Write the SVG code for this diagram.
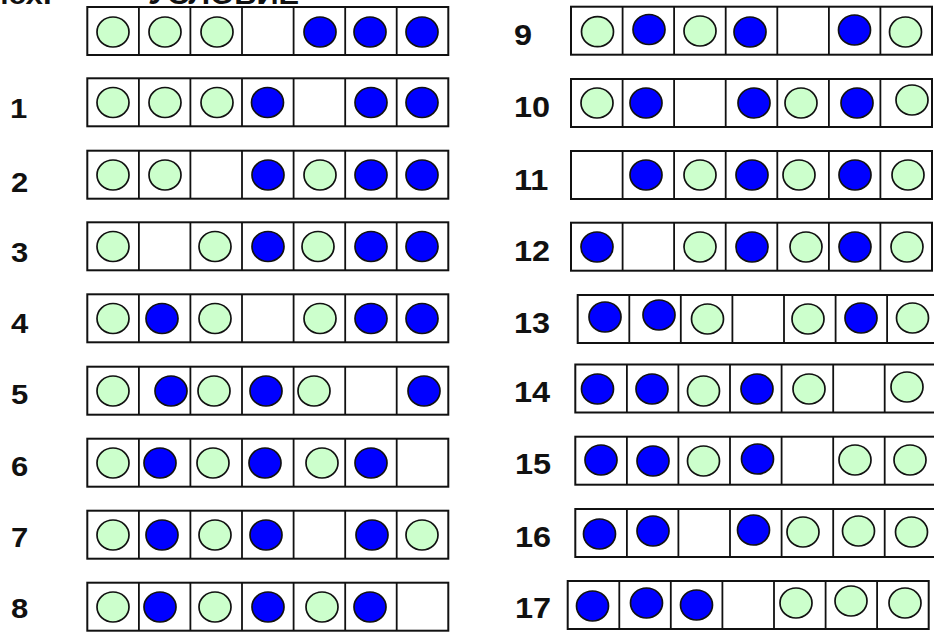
<svg xmlns="http://www.w3.org/2000/svg" xmlns:xlink="http://www.w3.org/1999/xlink" width="934" height="633" viewBox="0 0 934 633">
<style>
.frame{fill:#fff;stroke:#111;stroke-width:2}
.div{stroke:#111;stroke-width:1.8}
.g{fill:#ccffcc;stroke:#111;stroke-width:1.7}
.b{fill:#0000ff;stroke:#111;stroke-width:1.7}
.lbl{font-family:"Liberation Sans",Arial,sans-serif;font-weight:bold;font-size:27px;fill:#111}
.lblr{font-family:"Liberation Sans",Arial,sans-serif;font-weight:bold;font-size:29px;fill:#111}
.ttl{font-family:"Liberation Sans",Arial,sans-serif;font-weight:bold;font-size:28px;fill:#111}
</style>
<defs>
<g id="grid">
<rect class="frame" x="0" y="0" width="361" height="48"/>
<path class="div" d="M51.6 0V48M103.1 0V48M154.7 0V48M206.3 0V48M257.9 0V48M309.4 0V48"/>
</g>
<ellipse id="G" class="g" rx="16" ry="15"/>
<ellipse id="B" class="b" rx="16" ry="15"/>
</defs>

<g id="title">
<text class="ttl" transform="translate(-14,4) scale(1.12,1)">Исх.</text>
<text class="ttl" transform="translate(148,4) scale(1.1,1)">УСЛОВИЕ</text>
</g>

<g id="row-cond">
<use xlink:href="#grid" x="87.3" y="7"/>
<use xlink:href="#G" x="113" y="32"/><use xlink:href="#G" x="165" y="32"/><use xlink:href="#G" x="217" y="32"/>
<use xlink:href="#B" x="320" y="32"/><use xlink:href="#B" x="370" y="32"/><use xlink:href="#B" x="422" y="32"/>
</g>

<g id="row-1">
<text class="lbl" transform="translate(10,118.3) scale(1.15,1)">1</text>
<use xlink:href="#grid" x="87.3" y="78.3"/>
<use xlink:href="#G" x="113" y="102.5"/><use xlink:href="#G" x="165" y="102.5"/><use xlink:href="#G" x="217" y="102.5"/>
<use xlink:href="#B" x="267.5" y="102.5"/><use xlink:href="#B" x="371" y="102.5"/><use xlink:href="#B" x="422" y="102.5"/>
</g>

<g id="row-2">
<text class="lbl" transform="translate(11,191.7) scale(1.15,1)">2</text>
<use xlink:href="#grid" x="87.3" y="150.7"/>
<use xlink:href="#G" x="113" y="175"/><use xlink:href="#G" x="165" y="175"/>
<use xlink:href="#B" x="268" y="175"/><use xlink:href="#G" x="320" y="175"/><use xlink:href="#B" x="371" y="175"/><use xlink:href="#B" x="422" y="175"/>
</g>

<g id="row-3">
<text class="lbl" transform="translate(11,261.7) scale(1.15,1)">3</text>
<use xlink:href="#grid" x="87.3" y="222.3"/>
<use xlink:href="#G" x="113" y="246.5"/>
<use xlink:href="#G" x="215" y="246.5"/><use xlink:href="#B" x="268" y="246.5"/><use xlink:href="#G" x="318" y="246.5"/><use xlink:href="#B" x="371" y="246.5"/><use xlink:href="#B" x="422" y="246.5"/>
</g>

<g id="row-4">
<text class="lbl" transform="translate(11,332.7) scale(1.15,1)">4</text>
<use xlink:href="#grid" x="87.3" y="294.3"/>
<use xlink:href="#G" x="113" y="318.5"/><use xlink:href="#B" x="162" y="318.5"/><use xlink:href="#G" x="215" y="318.5"/>
<use xlink:href="#G" x="320" y="318.5"/><use xlink:href="#B" x="371" y="318.5"/><use xlink:href="#B" x="422" y="318.5"/>
</g>

<g id="row-5">
<text class="lbl" transform="translate(11,404) scale(1.15,1)">5</text>
<use xlink:href="#grid" x="87.3" y="366.7"/>
<use xlink:href="#G" x="113" y="391"/><use xlink:href="#B" x="171" y="391"/><use xlink:href="#G" x="214" y="391"/><use xlink:href="#B" x="266" y="391"/><use xlink:href="#G" x="314" y="391"/>
<use xlink:href="#B" x="424" y="391"/>
</g>

<g id="row-6">
<text class="lbl" transform="translate(11,475.7) scale(1.15,1)">6</text>
<use xlink:href="#grid" x="87.3" y="438.7"/>
<use xlink:href="#G" x="113" y="463"/><use xlink:href="#B" x="160" y="463"/><use xlink:href="#G" x="213" y="463"/><use xlink:href="#B" x="265" y="463"/><use xlink:href="#G" x="322" y="463"/><use xlink:href="#B" x="371" y="463"/>
</g>

<g id="row-7">
<text class="lbl" transform="translate(11,546.7) scale(1.15,1)">7</text>
<use xlink:href="#grid" x="87.3" y="510.7"/>
<use xlink:href="#G" x="113" y="535"/><use xlink:href="#B" x="162" y="535"/><use xlink:href="#G" x="215" y="535"/><use xlink:href="#B" x="266" y="535"/>
<use xlink:href="#B" x="372" y="535"/><use xlink:href="#G" x="422" y="535"/>
</g>

<g id="row-8">
<text class="lbl" transform="translate(11,618.3) scale(1.15,1)">8</text>
<use xlink:href="#grid" x="87.3" y="582.7"/>
<use xlink:href="#G" x="113" y="607"/><use xlink:href="#B" x="160" y="607"/><use xlink:href="#G" x="215" y="607"/><use xlink:href="#B" x="268" y="607"/><use xlink:href="#G" x="322" y="607"/><use xlink:href="#B" x="370" y="607"/>
</g>

<g id="row-9">
<text class="lblr" transform="translate(514,45) scale(1.12,1)">9</text>
<use xlink:href="#grid" x="571" y="6.7"/>
<use xlink:href="#G" x="597.5" y="31.7"/><use xlink:href="#B" x="649" y="29.5"/><use xlink:href="#G" x="700" y="31"/><use xlink:href="#B" x="750" y="32"/>
<use xlink:href="#B" x="854.5" y="30"/><use xlink:href="#G" x="905.5" y="32"/>
</g>

<g id="row-10">
<text class="lblr" transform="translate(514,117) scale(1.12,1)">10</text>
<use xlink:href="#grid" x="571" y="79"/>
<use xlink:href="#G" x="597" y="103"/><use xlink:href="#B" x="646" y="103"/>
<use xlink:href="#B" x="754" y="103"/><use xlink:href="#G" x="801" y="103"/><use xlink:href="#B" x="857" y="103"/><use xlink:href="#G" x="912" y="100"/>
</g>

<g id="row-11">
<text class="lblr" transform="translate(514,189.5) scale(1.12,1)">11</text>
<use xlink:href="#grid" x="571" y="151"/>
<use xlink:href="#B" x="646" y="175"/><use xlink:href="#G" x="700" y="175"/><use xlink:href="#B" x="752" y="175"/><use xlink:href="#G" x="799" y="175"/><use xlink:href="#B" x="855" y="175"/><use xlink:href="#G" x="908" y="175"/>
</g>

<g id="row-12">
<text class="lblr" transform="translate(514,260.7) scale(1.12,1)">12</text>
<use xlink:href="#grid" x="571" y="222.7"/>
<use xlink:href="#B" x="597" y="247"/>
<use xlink:href="#G" x="700" y="247"/><use xlink:href="#B" x="752" y="247"/><use xlink:href="#G" x="806" y="247"/><use xlink:href="#B" x="855" y="247"/><use xlink:href="#G" x="907" y="247"/>
</g>

<g id="row-13">
<text class="lblr" transform="translate(514,333.3) scale(1.12,1)">13</text>
<use xlink:href="#grid" x="577.7" y="295"/>
<use xlink:href="#B" x="605" y="317"/><use xlink:href="#B" x="659" y="315"/><use xlink:href="#G" x="707.5" y="319"/>
<use xlink:href="#G" x="808" y="319"/><use xlink:href="#B" x="861" y="318"/><use xlink:href="#G" x="912.5" y="318"/>
</g>

<g id="row-14">
<text class="lblr" transform="translate(514,401.7) scale(1.12,1)">14</text>
<use xlink:href="#grid" x="575.3" y="364.5"/>
<use xlink:href="#B" x="597.5" y="389"/><use xlink:href="#B" x="652" y="389"/><use xlink:href="#G" x="703.5" y="391"/><use xlink:href="#B" x="757" y="389"/><use xlink:href="#G" x="809" y="389"/>
<use xlink:href="#G" x="907" y="387"/>
</g>

<g id="row-15">
<text class="lblr" transform="translate(515,474) scale(1.12,1)">15</text>
<use xlink:href="#grid" x="575.3" y="436.7"/>
<use xlink:href="#B" x="601" y="460"/><use xlink:href="#B" x="653" y="461"/><use xlink:href="#G" x="703.5" y="461"/><use xlink:href="#B" x="757.5" y="459"/>
<use xlink:href="#G" x="855" y="460"/><use xlink:href="#G" x="910" y="460"/>
</g>

<g id="row-16">
<text class="lblr" transform="translate(515,546.7) scale(1.12,1)">16</text>
<use xlink:href="#grid" x="575.3" y="509"/>
<use xlink:href="#B" x="599.5" y="534"/><use xlink:href="#B" x="653" y="531"/>
<use xlink:href="#B" x="753.5" y="530"/><use xlink:href="#G" x="803" y="532"/><use xlink:href="#G" x="858.5" y="531"/><use xlink:href="#G" x="911.5" y="532"/>
</g>

<g id="row-17">
<text class="lblr" transform="translate(515,617.7) scale(1.12,1)">17</text>
<use xlink:href="#grid" x="567.7" y="581"/>
<use xlink:href="#B" x="592.5" y="606"/><use xlink:href="#B" x="646.5" y="603"/><use xlink:href="#B" x="696.5" y="605"/>
<use xlink:href="#G" x="796" y="603"/><use xlink:href="#G" x="851" y="601"/><use xlink:href="#G" x="905" y="603"/>
</g>
</svg>
